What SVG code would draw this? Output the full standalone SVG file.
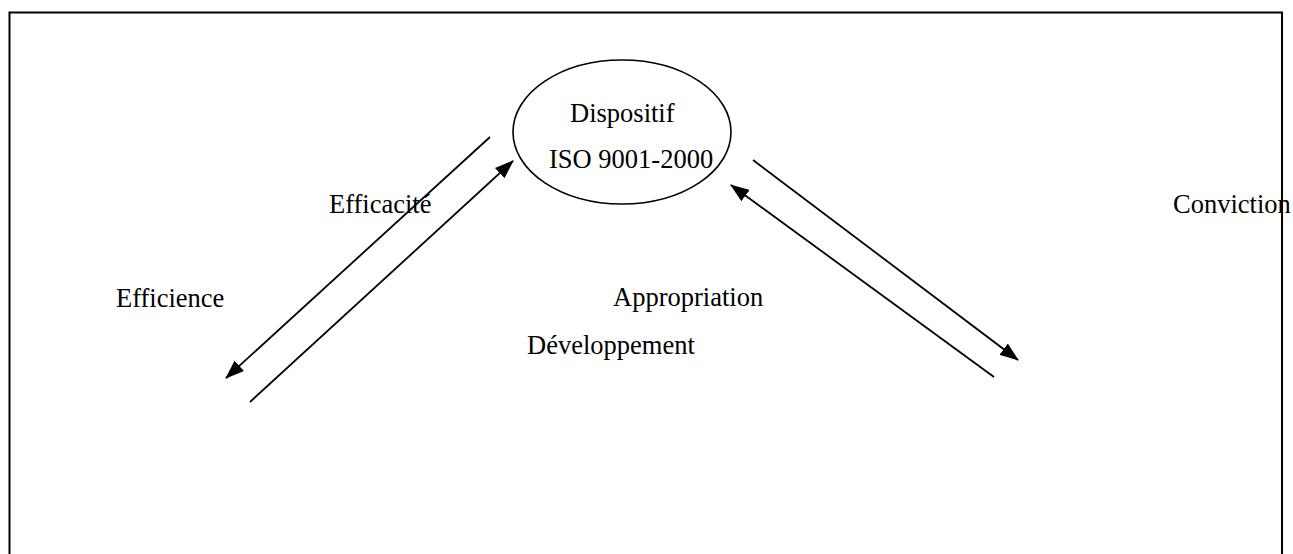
<svg xmlns="http://www.w3.org/2000/svg" width="1293" height="554" viewBox="0 0 1293 554">
<style>
.t{font-family:"Liberation Serif","Times New Roman",serif;font-size:26.5px;fill:#000}
.c{stroke:#000;stroke-width:1.8;fill:none}
</style>
<defs>
<marker id="ah" viewBox="0 0 19 14" refX="18" refY="7" markerWidth="19" markerHeight="14" markerUnits="userSpaceOnUse" orient="auto">
<path d="M0,0 L19,7 L0,14 Z" fill="#000"/>
</marker>
</defs>
<rect width="1293" height="554" fill="#fff"/>
<path d="M9.5,554 V12.5 H1282 V554" fill="none" stroke="#000" stroke-width="2"/>
<g id="node-dispositif">
<ellipse cx="622" cy="132" rx="109" ry="72" fill="none" stroke="#000" stroke-width="1.6"/>
<text class="t" x="570" y="122">Dispositif</text>
<text class="t" x="549" y="168">ISO 9001-2000</text>
</g>
<g id="connectors">
<line class="c" x1="490" y1="137" x2="226" y2="378" marker-end="url(#ah)"/>
<line class="c" x1="250" y1="402" x2="513" y2="161" marker-end="url(#ah)"/>
<line class="c" x1="753" y1="160" x2="1018" y2="360" marker-end="url(#ah)"/>
<line class="c" x1="994" y1="377" x2="731" y2="185" marker-end="url(#ah)"/>
</g>
<g id="labels">
<text class="t" x="329" y="213">Efficacité</text>
<text class="t" x="116" y="307">Efficience</text>
<text class="t" x="613" y="306">Appropriation</text>
<text class="t" x="527" y="354">Développement</text>
<text class="t" x="1173" y="213">Conviction</text>
</g>
</svg>
